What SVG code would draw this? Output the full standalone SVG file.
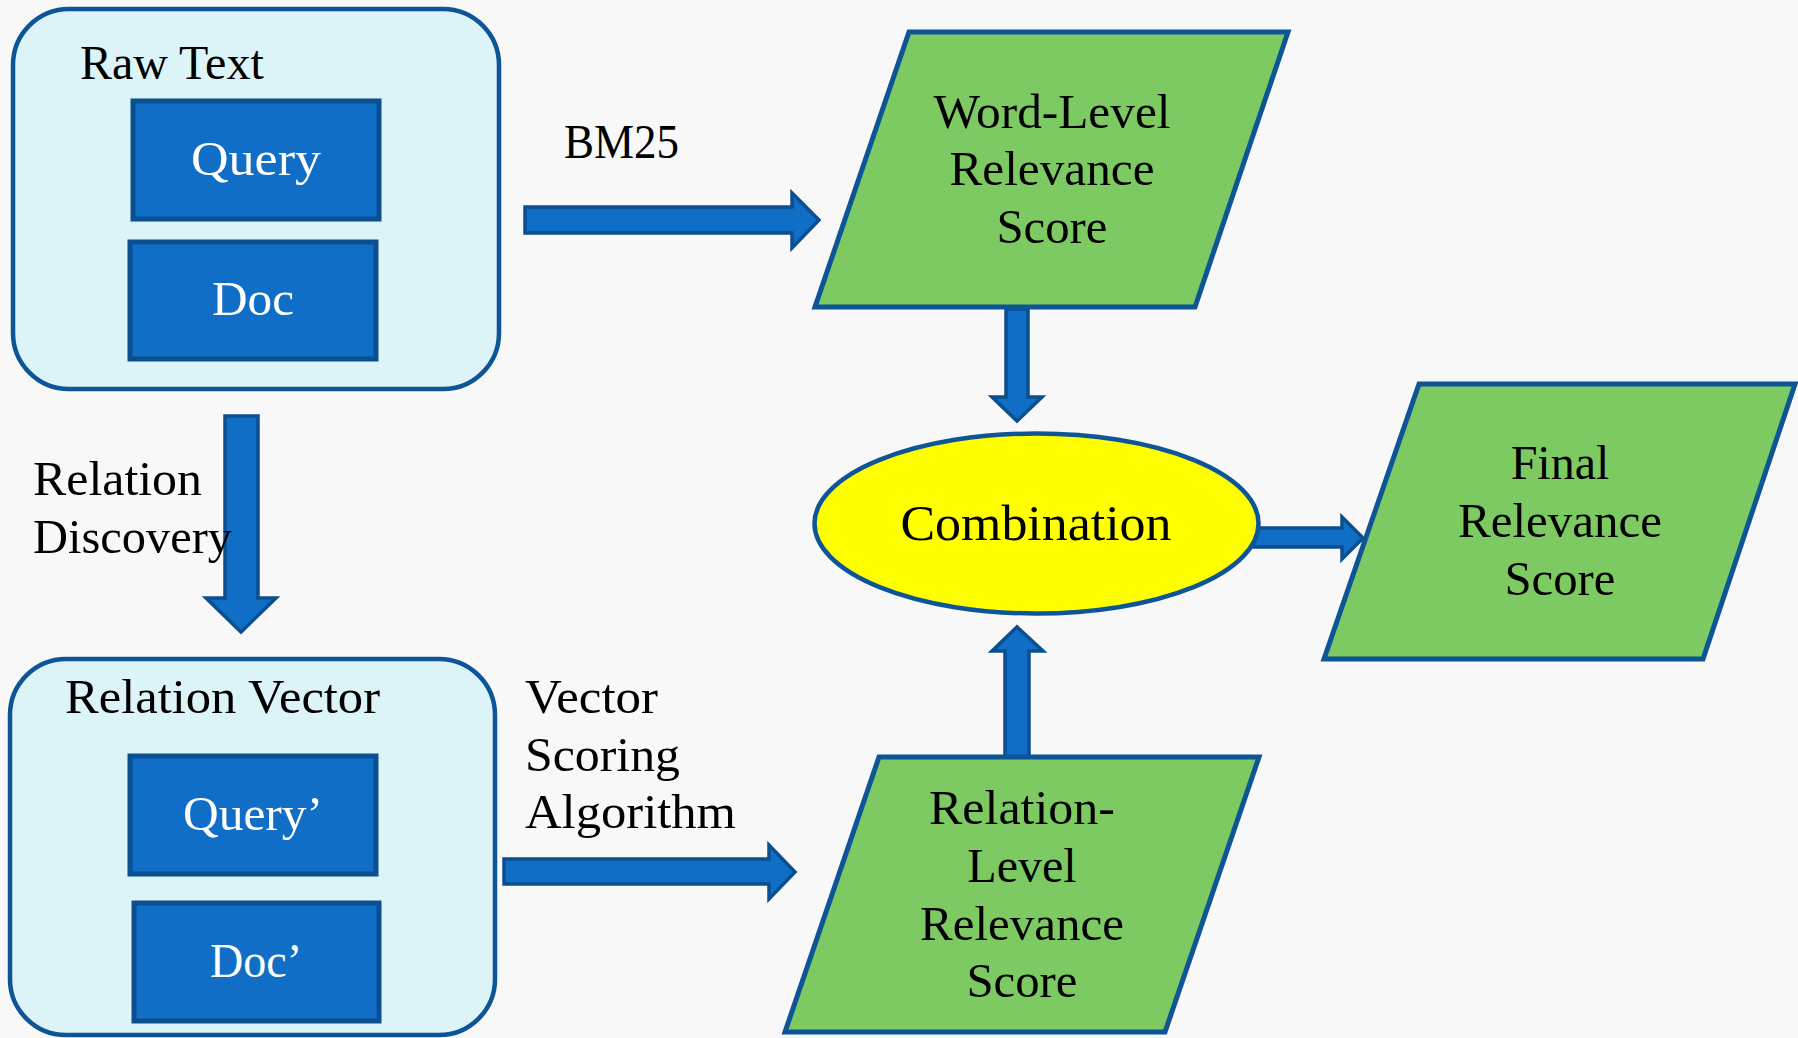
<svg xmlns="http://www.w3.org/2000/svg" width="1798" height="1038" viewBox="0 0 1798 1038">
<style>
.t{font-family:"Liberation Serif","Times New Roman",serif;font-size:48px;fill:#000}
.w{fill:#fff}
.c{text-anchor:middle}
.grp{fill:#dcf3f8;stroke:#0d5596;stroke-width:4.5}
.box{fill:#106ec6;stroke:#0b4f8e;stroke-width:5}
.para{fill:#7dca63;stroke:#0d5596;stroke-width:5;stroke-linejoin:miter}
.arr{fill:#106ec6;stroke:#0b4f8e;stroke-width:3.5;stroke-linejoin:miter}
</style>
<rect width="1798" height="1038" fill="#f8f8f8"/>
<g id="connectors">
<polygon class="arr" points="525,207 792,207 792,193 819,220 792,248 792,233 525,233"/>
<polygon class="arr" points="1006,309 1028,309 1028,397 1042,397 1017,421 992,397 1006,397"/>
<polygon class="arr" points="1005,757 1005,651 992,651 1017,627 1043,651 1029,651 1029,757"/>
<polygon class="arr" points="1254,528 1342,528 1342,517 1363,538 1342,559 1342,547 1254,547"/>
<polygon class="arr" points="225,416 258,416 258,598 276,598 241,632 206,598 225,598"/>
<polygon class="arr" points="504,859 769,859 769,845 795,872 769,899 769,884 504,884"/>
<text class="t" x="564" y="158" textLength="115" lengthAdjust="spacingAndGlyphs">BM25</text>
<text class="t" x="33" y="495" textLength="169" lengthAdjust="spacingAndGlyphs">Relation</text>
<text class="t" x="33" y="553" textLength="199" lengthAdjust="spacingAndGlyphs">Discovery</text>
<text class="t" x="525" y="713" textLength="133" lengthAdjust="spacingAndGlyphs">Vector</text>
<text class="t" x="525" y="771" textLength="155" lengthAdjust="spacingAndGlyphs">Scoring</text>
<text class="t" x="525" y="828" textLength="211" lengthAdjust="spacingAndGlyphs">Algorithm</text>
</g>
<g id="raw-text">
<rect class="grp" x="13" y="9" width="486" height="380" rx="56" ry="56"/>
<text class="t" x="80" y="79">Raw Text</text>
</g>
<g id="query">
<rect class="box" x="133" y="101" width="246" height="118"/>
<text class="t w c" x="256" y="175" textLength="130" lengthAdjust="spacingAndGlyphs">Query</text>
</g>
<g id="doc">
<rect class="box" x="130" y="242" width="246" height="117"/>
<text class="t w c" x="253" y="315" textLength="82" lengthAdjust="spacingAndGlyphs">Doc</text>
</g>
<g id="relation-vector">
<rect class="grp" x="10" y="659" width="485" height="376" rx="56" ry="56"/>
<text class="t" x="65" y="713" textLength="315" lengthAdjust="spacingAndGlyphs">Relation Vector</text>
</g>
<g id="query-prime">
<rect class="box" x="130" y="756" width="246" height="118"/>
<text class="t w c" x="253" y="830" textLength="140" lengthAdjust="spacingAndGlyphs">Query’</text>
</g>
<g id="doc-prime">
<rect class="box" x="134" y="903" width="245" height="118"/>
<text class="t w c" x="256" y="977" textLength="92" lengthAdjust="spacingAndGlyphs">Doc’</text>
</g>
<g id="word-level">
<polygon class="para" points="909,32 1288,32 1195,307 815,307"/>
<text class="t c" x="1052" y="128" textLength="237" lengthAdjust="spacingAndGlyphs">Word-Level</text>
<text class="t c" x="1052" y="185" textLength="205" lengthAdjust="spacingAndGlyphs">Relevance</text>
<text class="t c" x="1052" y="243" textLength="111" lengthAdjust="spacingAndGlyphs">Score</text>
</g>
<g id="combination">
<ellipse cx="1036.5" cy="523.5" rx="222" ry="90" fill="#ffff00" stroke="#0d5596" stroke-width="4.5"/>
<text class="t c" x="1036" y="540" style="font-size:50px" textLength="271" lengthAdjust="spacingAndGlyphs">Combination</text>
</g>
<g id="final">
<polygon class="para" points="1419,384 1795,384 1703,659 1324,659"/>
<text class="t c" x="1560" y="479">Final</text>
<text class="t c" x="1560" y="537" textLength="204" lengthAdjust="spacingAndGlyphs">Relevance</text>
<text class="t c" x="1560" y="595" textLength="111" lengthAdjust="spacingAndGlyphs">Score</text>
</g>
<g id="relation-level">
<polygon class="para" points="879,757 1259,757 1165,1032 785,1032"/>
<text class="t c" x="1022" y="824" textLength="186" lengthAdjust="spacingAndGlyphs">Relation-</text>
<text class="t c" x="1022" y="882">Level</text>
<text class="t c" x="1022" y="940" textLength="204" lengthAdjust="spacingAndGlyphs">Relevance</text>
<text class="t c" x="1022" y="997" textLength="111" lengthAdjust="spacingAndGlyphs">Score</text>
</g>
</svg>
